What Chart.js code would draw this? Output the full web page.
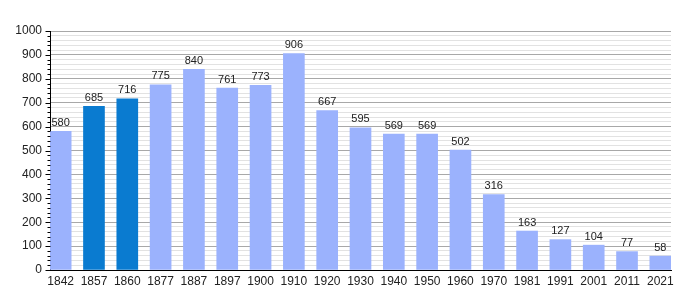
<!DOCTYPE html>
<html>
<head>
<meta charset="utf-8">
<script src="https://cdn.jsdelivr.net/npm/chart.js@4"></script>
<style>
  html, body { margin: 0; padding: 0; background: #fff; }
  #wrap { width: 700px; height: 300px; }
</style>
</head>
<body>
<div id="wrap"><canvas id="chart"></canvas></div>
<script>
// data
const years = ['1842', '1857', '1860', '1877', '1887', '1897', '1900', '1910', '1920', '1930',
               '1940', '1950', '1960', '1970', '1981', '1991', '2001', '2011', '2021'];
const population = [580, 685, 716, 775, 840, 761, 773, 906, 667, 595,
                    569, 569, 502, 316, 163, 127, 104, 77, 58];
const highlighted = ['1857', '1860'];

const LIGHT = '#9bb2fd';
const DARK = '#0a7bd0';

// value labels above bars + y axis tick marks (major/minor)
const extras = {
  id: 'extras',
  afterDatasetsDraw(chart) {
    const ctx = chart.ctx;
    const meta = chart.getDatasetMeta(0);
    ctx.save();
    ctx.font = '11px "Liberation Sans", Arial, sans-serif';
    ctx.fillStyle = '#222';
    ctx.textAlign = 'center';
    ctx.textBaseline = 'bottom';
    meta.data.forEach((bar, i) => {
      ctx.fillText(String(population[i]), bar.x, bar.y - 3);
    });

    const y = chart.scales.y;
    const x0 = Math.round(y.right) + 0.5;
    ctx.strokeStyle = '#000';
    ctx.lineWidth = 1;
    for (let v = 0; v <= 1000; v += 20) {
      const py = Math.round(y.getPixelForValue(v)) + 0.5;
      const len = v % 100 === 0 ? 5 : 3;
      ctx.beginPath();
      ctx.moveTo(x0 - len, py);
      ctx.lineTo(x0, py);
      ctx.stroke();
    }
    ctx.restore();
  }
};

new Chart(document.getElementById('chart'), {
  type: 'bar',
  data: {
    datasets: [{
      data: population.map((v, i) => ({ x: i, y: v })),
      backgroundColor: years.map(y => highlighted.includes(y) ? DARK : LIGHT),
      barThickness: 21,
      borderWidth: 0
    }]
  },
  options: {
    responsive: true,
    maintainAspectRatio: false,
    animation: false,
    layout: { padding: { left: 0, right: 29, top: 31, bottom: 0 } },
    plugins: {
      legend: { display: false },
      tooltip: { enabled: false }
    },
    scales: {
      x: {
        type: 'linear',
        min: -0.32,
        max: 18.32,
        offset: false,
        afterBuildTicks: scale => { scale.ticks = years.map((_, i) => ({ value: i })); },
        afterFit: scale => { scale.height = 30; },
        grid: { display: false, drawTicks: false },
        border: { color: '#000', width: 1 },
        ticks: {
          autoSkip: false,
          maxRotation: 0,
          padding: 4,
          color: '#222',
          font: { family: '"Liberation Sans", Arial, sans-serif', size: 12 },
          callback: v => years[v] ?? ''
        }
      },
      y: {
        min: 0,
        max: 1000,
        afterFit: scale => { scale.width = 50; },
        grid: {
          drawTicks: false,
          color: c => (c.tick && c.tick.value % 100 === 0) ? '#a8a8a8' : '#e2e2e2'
        },
        border: { color: '#000', width: 1 },
        ticks: {
          stepSize: 20,
          autoSkip: false,
          padding: 8,
          color: '#222',
          font: { family: '"Liberation Sans", Arial, sans-serif', size: 12 },
          callback: v => v % 100 === 0 ? String(v) : ''
        }
      }
    }
  },
  plugins: [extras]
});
</script>
</body>
</html>
